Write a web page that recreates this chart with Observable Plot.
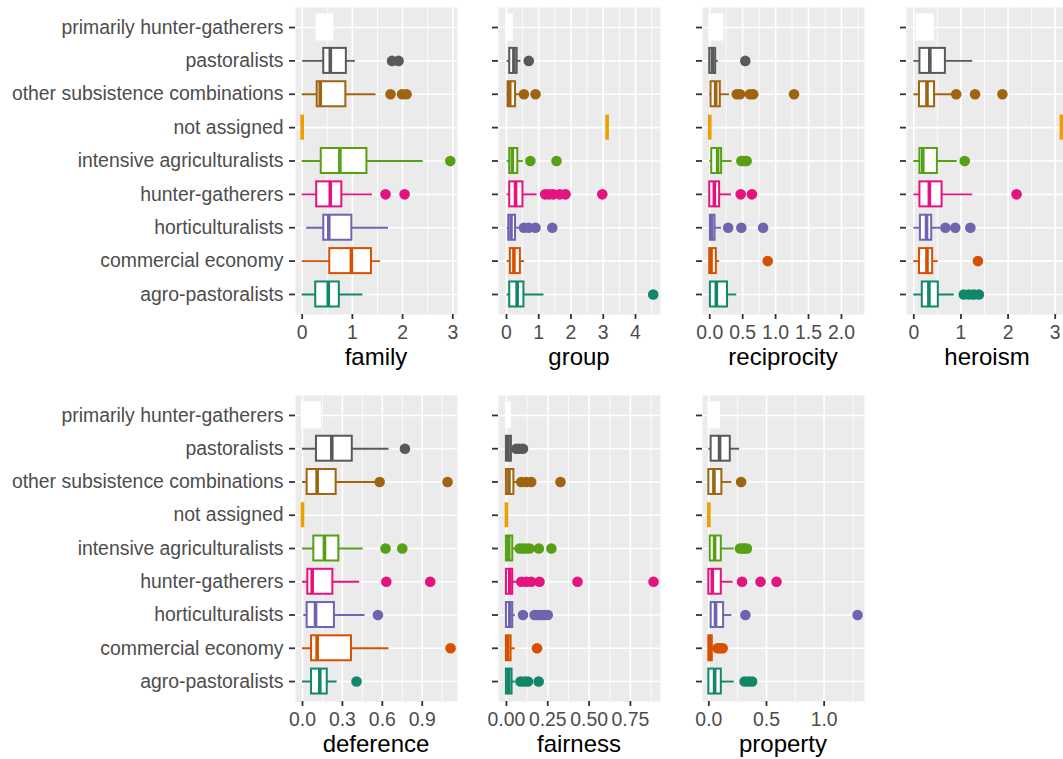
<!DOCTYPE html>
<html><head><meta charset="utf-8">
<script src="https://cdn.jsdelivr.net/npm/d3@7"></script>
<script src="https://cdn.jsdelivr.net/npm/@observablehq/plot@0.6"></script>
<style>
html,body{margin:0;padding:0;background:#fff;overflow:hidden;}
#chart{position:relative;width:1063px;height:759px;overflow:hidden;font-family:"Liberation Sans",Arial,Helvetica,sans-serif;}
.panel{position:absolute;}
.title{position:absolute;font-size:24px;line-height:24px;color:#000;text-align:center;width:162px;white-space:nowrap;}
</style></head><body><div id="chart"></div>
<script>
// categories, top to bottom as displayed
const categories = ["primarily hunter-gatherers","pastoralists","other subsistence combinations","not assigned","intensive agriculturalists","hunter-gatherers","horticulturalists","commercial economy","agro-pastoralists"];
const colors = ["#FFFFFF","#595959","#9E6410","#EBA000","#57A015","#E4137F","#6E64B0","#D65000","#11876A"];

// box stats per category: [lower whisker, q1, median, q3, upper whisker]
const familyStats = [[0.30,0.30,0.45,0.61,0.61],[0.01,0.43,0.56,0.88,1.06],[0,0.30,0.36,0.87,1.47],[0,0,0,0,0],[0,0.38,0.75,1.29,2.41],[0,0.29,0.56,0.79,1.40],[0.09,0.43,0.53,0.99,1.72],[0,0.55,0.98,1.38,1.56],[0,0.27,0.52,0.74,1.21]];
const familyOutliers = [[],[1.79,1.92],[1.76,1.99,2.08],[],[2.95],[1.66,2.04],[],[],[]];

const groupStats = [[0,0,0.08,0.18,0.18],[0.02,0.10,0.23,0.33,0.45],[0.02,0.05,0.10,0.28,0.43],[3.12,3.12,3.12,3.12,3.12],[0.02,0.10,0.18,0.35,0.52],[0.02,0.10,0.28,0.51,0.95],[0.02,0.07,0.14,0.28,0.40],[0.02,0.12,0.23,0.43,0.56],[0.02,0.10,0.33,0.54,1.16]];
const groupOutliers = [[],[0.69],[0.54,0.90],[],[0.74,1.55],[1.20,1.32,1.45,1.65,1.83,2.97],[0.54,0.69,0.90,1.42],[],[4.55]];

const reciprocityStats = [[0,0,0.10,0.20,0.20],[0,0,0.04,0.09,0.13],[0,0.02,0.09,0.16,0.30],[0,0,0,0,0],[0,0.03,0.12,0.18,0.34],[0,0,0.07,0.15,0.33],[0,0.01,0.03,0.08,0.18],[0,0,0.02,0.10,0.15],[0,0.01,0.10,0.27,0.41]];
const reciprocityOutliers = [[],[0.54],[0.41,0.46,0.61,0.66,1.28],[],[0.48,0.52,0.56],[0.47,0.64],[0.28,0.48,0.81],[0.88],[]];

const heroismStats = [[0.07,0.07,0.24,0.41,0.41],[0,0.13,0.34,0.67,1.25],[0,0.12,0.28,0.44,0.81],[3.13,3.13,3.13,3.13,3.13],[0,0.13,0.19,0.50,0.92],[0,0.13,0.33,0.60,1.25],[0,0.14,0.27,0.38,0.57],[0,0.12,0.28,0.40,0.52],[0,0.18,0.32,0.52,0.86]];
const heroismOutliers = [[],[],[0.90,1.30,1.88],[],[1.08],[2.18],[0.67,0.88,1.20],[1.36],[1.06,1.17,1.27,1.38]];

const deferenceStats = [[0,0,0.07,0.135,0.135],[0,0.105,0.22,0.374,0.65],[0,0.035,0.11,0.253,0.55],[0,0,0,0,0],[0,0.085,0.165,0.273,0.456],[0,0.04,0.073,0.228,0.43],[0.01,0.035,0.098,0.24,0.47],[0,0.068,0.11,0.368,0.65],[0,0.068,0.13,0.186,0.26]];
const deferenceOutliers = [[],[0.77],[0.58,1.09],[],[0.624,0.75],[0.63,0.96],[0.567],[1.113],[0.406]];

const fairnessStats = [[0,0,0.01,0.024,0.024],[0,0,0.01,0.03,0.045],[0,0,0.015,0.045,0.075],[0,0,0,0,0],[0,0,0.014,0.038,0.06],[0,0,0.02,0.038,0.068],[0,0,0.02,0.038,0.054],[0,0,0.008,0.028,0.054],[0,0,0.014,0.034,0.054]];
const fairnessOutliers = [[],[0.06,0.08,0.10],[0.09,0.12,0.15,0.327],[],[0.08,0.10,0.12,0.14,0.196,0.272],[0.09,0.12,0.15,0.20,0.43,0.89],[0.10,0.17,0.19,0.21,0.23,0.25],[0.185],[0.085,0.11,0.13,0.195]];

const propertyStats = [[0,0,0.05,0.093,0.093],[0,0.02,0.093,0.186,0.267],[0,0,0.044,0.113,0.20],[0,0,0,0,0],[0.01,0.012,0.05,0.108,0.22],[0,0,0.03,0.108,0.21],[0.02,0.02,0.058,0.128,0.20],[0,0,0.01,0.03,0.05],[0,0,0.05,0.108,0.22]];
const propertyOutliers = [[],[],[0.28],[],[0.27,0.29,0.31,0.33],[0.288,0.448,0.587],[0.317,1.29],[0.075,0.10,0.12],[0.31,0.345,0.375]];

// axis tick values and labels
const familyTicks = [0,1,2,3], familyLabels = ["0","1","2","3"];
const groupTicks = [0,1,2,3,4], groupLabels = ["0","1","2","3","4"];
const reciprocityTicks = [0,0.5,1,1.5,2], reciprocityLabels = ["0.0","0.5","1.0","1.5","2.0"];
const heroismTicks = [0,1,2,3], heroismLabels = ["0","1","2","3"];
const deferenceTicks = [0,0.3,0.6,0.9], deferenceLabels = ["0.0","0.3","0.6","0.9"];
const fairnessTicks = [0,0.25,0.5,0.75], fairnessLabels = ["0.00","0.25","0.50","0.75"];
const propertyTicks = [0,0.5,1], propertyLabels = ["0.0","0.5","1.0"];

// layout
const panels = [
  {name:"family", stats:familyStats, out:familyOutliers, ticks:familyTicks, labels:familyLabels, domain:[-0.133,3.094], row:0, col:0},
  {name:"group", stats:groupStats, out:groupOutliers, ticks:groupTicks, labels:groupLabels, domain:[-0.248,4.775], row:0, col:1},
  {name:"reciprocity", stats:reciprocityStats, out:reciprocityOutliers, ticks:reciprocityTicks, labels:reciprocityLabels, domain:[-0.11,2.35], row:0, col:2},
  {name:"heroism", stats:heroismStats, out:heroismOutliers, ticks:heroismTicks, labels:heroismLabels, domain:[-0.155,3.282], row:0, col:3},
  {name:"deference", stats:deferenceStats, out:deferenceOutliers, ticks:deferenceTicks, labels:deferenceLabels, domain:[-0.0526,1.165], row:1, col:0},
  {name:"fairness", stats:fairnessStats, out:fairnessOutliers, ticks:fairnessTicks, labels:fairnessLabels, domain:[-0.048,0.932], row:1, col:1},
  {name:"property", stats:propertyStats, out:propertyOutliers, ticks:propertyTicks, labels:propertyLabels, domain:[-0.055,1.35], row:1, col:2}
];
const colLeft = [295, 498, 702, 906];
const panelW = 162;
const rowTop = [7, 395], rowH = [307, 306];
const svgTop = [0, 385];

const chart = document.getElementById("chart");

for (const p of panels) {
  const rows = categories.map((c, i) => ({cat: c, lo: p.stats[i][0], q1: p.stats[i][1], med: p.stats[i][2], q3: p.stats[i][3], hi: p.stats[i][4]}));
  const outRows = categories.flatMap((c, i) => p.out[i].map(v => ({cat: c, value: v})));
  const step = p.ticks[1] - p.ticks[0];
  const minor = p.ticks.flatMap(t => [t - step/2, t + step/2]).filter((v, i, a) => a.indexOf(v) === i && v > p.domain[0] && v < p.domain[1]);
  const ml = p.col === 0 ? colLeft[0] : 12;
  const mr = 10;
  const mt = rowTop[p.row] - svgTop[p.row];
  const mb = 34;
  const tickLabel = d => p.labels[p.ticks.indexOf(d)];

  const svg = Plot.plot({
    width: ml + panelW + mr,
    height: mt + rowH[p.row] + mb,
    marginLeft: ml, marginRight: mr, marginTop: mt, marginBottom: mb,
    style: {fontFamily: '"Liberation Sans", Arial, Helvetica, sans-serif', fontSize: "19.4px", background: "transparent", overflow: "visible"},
    x: {domain: p.domain},
    y: {type: "band", domain: categories, paddingInner: 0.25, paddingOuter: 0.225, round: false},
    color: {domain: categories, range: colors},
    marks: [
      Plot.frame({fill: "#EBEBEB", stroke: "none"}),
      Plot.ruleX(minor, {stroke: "white", strokeWidth: 0.8}),
      Plot.ruleX(p.ticks, {stroke: "white", strokeWidth: 1.6}),
      Plot.ruleY(categories, {stroke: "white", strokeWidth: 1.6}),
      Plot.ruleY(rows, {y: "cat", x1: "lo", x2: "hi", stroke: "cat", strokeWidth: 1.9}),
      Plot.barX(rows, {y: "cat", x1: "q1", x2: "q3", fill: "white", stroke: "cat", strokeWidth: 2}),
      Plot.tickX(rows, {y: "cat", x: "med", stroke: "cat", strokeWidth: 3.6}),
      Plot.dot(outRows, {y: "cat", x: "value", fill: "cat", r: 5.3, stroke: "none"}),
      Plot.axisY({tickSize: 6, tickPadding: 6, stroke: "#333333", fill: "#4D4D4D", strokeWidth: 1.8, label: null,
                  tickFormat: p.col === 0 ? (d => d) : (() => "")}),
      Plot.axisX({ticks: p.ticks, tickFormat: tickLabel, tickSize: 5, tickPadding: 6, stroke: "#333333", fill: "#4D4D4D", strokeWidth: 1.8, label: null})
    ]
  });
  svg.classList.add("panel");
  svg.style.left = (colLeft[p.col] - ml) + "px";
  svg.style.top = svgTop[p.row] + "px";
  chart.appendChild(svg);

  const t = document.createElement("div");
  t.className = "title";
  t.textContent = p.name;
  t.style.left = colLeft[p.col] + "px";
  t.style.top = (rowTop[p.row] + rowH[p.row] + 31) + "px";
  chart.appendChild(t);
}
</script></body></html>
